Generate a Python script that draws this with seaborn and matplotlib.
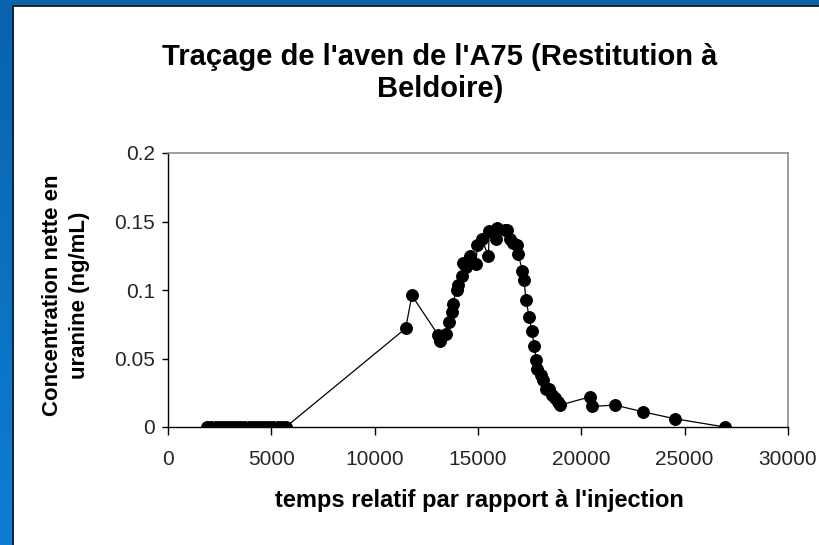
import numpy as np
import pandas as pd
import matplotlib
matplotlib.use("Agg")
import matplotlib.pyplot as plt
from matplotlib.lines import Line2D
import seaborn as sns

# Tracer restitution at Beldoire: time since injection vs net uranine concentration
temps = [
    1900, 2100, 2300, 2500, 2700, 2900, 3100, 3300, 3500, 3700,
    3900, 4100, 4300, 4500, 4700, 4900, 5100, 5300, 5500, 5700,
    11500, 11800, 13080, 13160, 13450, 13610, 13730, 13770, 13970, 14050,
    14210, 14260, 14420, 14610, 14900, 14970, 15180, 15500, 15550, 15870,
    15940, 16310, 16420, 16550, 16680, 16900, 16950, 17150, 17230, 17320,
    17480, 17600, 17730, 17810, 17870, 18030, 18130, 18290, 18450, 18570,
    18730, 18860, 18970, 20420, 20500, 21630, 23000, 24530, 26950,
]
concentration = [
    0, 0, 0, 0, 0, 0, 0, 0, 0, 0,
    0, 0, 0, 0, 0, 0, 0, 0, 0, 0,
    0.072, 0.096, 0.067, 0.063, 0.068, 0.077, 0.084, 0.090, 0.100, 0.104,
    0.110, 0.120, 0.117, 0.125, 0.119, 0.133, 0.137, 0.125, 0.143, 0.137,
    0.145, 0.144, 0.144, 0.137, 0.134, 0.133, 0.126, 0.114, 0.107, 0.093,
    0.080, 0.070, 0.059, 0.049, 0.042, 0.038, 0.034, 0.028, 0.028, 0.023,
    0.021, 0.018, 0.016, 0.022, 0.015, 0.016, 0.011, 0.006, 0.0,
]
x_ticks = [0, 5000, 10000, 15000, 20000, 25000, 30000]
y_ticks = [0, 0.05, 0.1, 0.15, 0.2]
y_tick_labels = ["0", "0.05", "0.1", "0.15", "0.2"]

df = pd.DataFrame({"temps": temps, "concentration": concentration})

sns.set_theme(style="white")
plt.rcParams["font.family"] = ["Liberation Sans", "DejaVu Sans"]

W, H = 820, 545
fig = plt.figure(figsize=(W / 100, H / 100), dpi=100, facecolor="white")

# Blue slide strips along the left and top edges, with a vertical gradient
bg = fig.add_axes([0, 0, 1, 1], zorder=-10)
bg.set_xlim(0, 1)
bg.set_ylim(0, 1)
bg.axis("off")
cmap = matplotlib.colors.LinearSegmentedColormap.from_list("slide", ["#0a63ab", "#0e7ed4"])
grad = np.linspace(0, 1, 256).reshape(-1, 1)
bg.imshow(grad, aspect="auto", cmap=cmap, extent=[0, 14 / W, 0, 1],
          origin="upper", vmin=0, vmax=1)
bg.imshow(np.zeros((2, 2)), aspect="auto", cmap=cmap, extent=[0, 1, 1 - 6 / H, 1],
          vmin=0, vmax=1)
bg.set_xlim(0, 1)
bg.set_ylim(0, 1)
# Dark outline of the white panel
fig.add_artist(Line2D([13.5 / W, 13.5 / W], [0, 1 - 5.5 / H], color="#1a1a1a", lw=1.3))
fig.add_artist(Line2D([13.5 / W, 1], [1 - 5.5 / H, 1 - 5.5 / H], color="#1a1a1a", lw=1.3))

ax = fig.add_axes([168 / W, 1 - 427 / H, 620 / W, 274 / H])
ax.set_facecolor("white")
sns.lineplot(data=df, x="temps", y="concentration", ax=ax, estimator=None,
             sort=True, color="black", linewidth=0.9, marker="o",
             markersize=8.5, markeredgecolor="black", markerfacecolor="black")

ax.set_xlim(0, 30000)
ax.set_ylim(0, 0.2)
ax.set_xticks(x_ticks)
ax.set_xticklabels([str(t) for t in x_ticks])
ax.set_yticks(y_ticks)
ax.set_yticklabels(y_tick_labels)
ax.set_xlabel("")
ax.set_ylabel("")
ax.tick_params(axis="x", direction="out", length=5.5, width=1, color="black",
               labelsize=15, pad=11, bottom=True)
ax.tick_params(axis="y", direction="out", length=4.5, width=1, color="black",
               labelsize=15, pad=5, left=True)
for side in ("left", "bottom"):
    ax.spines[side].set_color("black")
    ax.spines[side].set_linewidth(1.0)
for side in ("top", "right"):
    ax.spines[side].set_color("#8c8c8c")
    ax.spines[side].set_linewidth(1.2)

fig.text(440 / W, 1 - 73 / H, "Traçage de l'aven de l'A75 (Restitution à\nBeldoire)",
         ha="center", va="center", fontsize=21, fontweight="bold",
         linespacing=1.2, color="black")
fig.text(479 / W, 1 - 501 / H, "temps relatif par rapport à l'injection",
         ha="center", va="center", fontsize=17, fontweight="bold", color="black")
fig.text(66 / W, 1 - 295 / H, "Concentration nette en\nuranine (ng/mL)",
         ha="center", va="center", rotation=90, fontsize=16, fontweight="bold",
         multialignment="center", linespacing=1.4, color="black")

fig.savefig("out.png", dpi=100)
